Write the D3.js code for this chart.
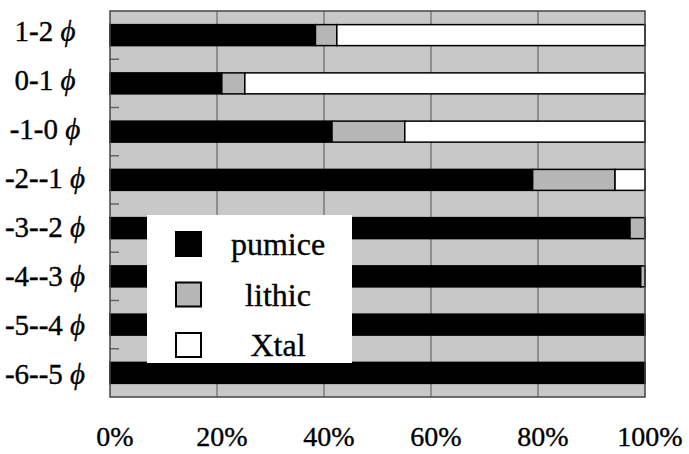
<!DOCTYPE html>
<html>
<head>
<meta charset="utf-8">
<script src="https://cdn.jsdelivr.net/npm/d3@7"></script>
<style>
	body { margin: 0; background: #fff; }
	svg { display: block; }
	text { font-family: 'Liberation Serif', 'Times New Roman', serif; fill: #000; stroke: #000; stroke-width: 0.35; }
</style>
</head>
<body>
<svg width="689" height="454"></svg>
<script>
const categories = ['1-2', '0-1', '-1-0', '-2--1', '-3--2', '-4--3', '-5--4', '-6--5'];
const components = ['pumice', 'lithic', 'Xtal'];
const pumice = [38.4, 20.9, 41.5, 79, 97.2, 99.2, 100, 100];
const lithic = [4, 4.3, 13.6, 15.4, 2.8, 0.8, 0, 0];
const xtal = [57.6, 74.8, 44.9, 5.6, 0, 0, 0, 0];
const ticks = [0, 20, 40, 60, 80, 100];

const svg = d3.select('svg');
const plot = { left: 110, right: 645, top: 11, bottom: 397 };

const colours = d3.scaleOrdinal()
	.domain(components)
	.range(['#000000', '#b6b6b6', '#ffffff']);

const rows = categories.map((c, i) => ({
	cat: c,
	pumice: pumice[i],
	lithic: lithic[i],
	Xtal: xtal[i],
}));

const series = d3.stack().keys(components)(rows);

const x = d3.scaleLinear()
	.domain([0, 100])
	.range([plot.left, plot.right]);

const y = d3.scaleBand()
	.domain(categories)
	.range([plot.top, plot.bottom])
	.paddingInner(0.565)
	.paddingOuter(0.2825);

// labels sit a bit lower than the bars towards the bottom
const yLabel = d3.scalePoint()
	.domain(categories)
	.range([41, 384]);

// plot background
svg.append('rect')
	.attr('x', plot.left)
	.attr('y', plot.top)
	.attr('width', plot.right - plot.left)
	.attr('height', plot.bottom - plot.top)
	.attr('fill', '#c8c8c8');

// vertical grid
svg.append('g')
	.selectAll('line')
	.data(ticks.slice(1, -1))
	.enter()
	.append('line')
	.attr('x1', d => x(d))
	.attr('x2', d => x(d))
	.attr('y1', plot.top)
	.attr('y2', plot.bottom)
	.attr('stroke', '#555')
	.attr('stroke-width', 1);

// inward ticks on the category axis
svg.append('g')
	.selectAll('line')
	.data(categories.slice(1))
	.enter()
	.append('line')
	.attr('x1', plot.left)
	.attr('x2', plot.left + 9)
	.attr('y1', d => y(d) - y.step() * y.paddingInner() / 2)
	.attr('y2', d => y(d) - y.step() * y.paddingInner() / 2)
	.attr('stroke', '#666')
	.attr('stroke-width', 1.5);

// stacked bars
svg.append('g')
	.selectAll('g')
	.data(series)
	.enter()
	.append('g')
	.attr('fill', d => colours(d.key))
	.selectAll('rect')
	.data(d => d.filter(s => s[1] - s[0] > 0))
	.enter()
	.append('rect')
	.attr('x', d => x(d[0]))
	.attr('y', d => y(d.data.cat))
	.attr('width', d => x(d[1]) - x(d[0]))
	.attr('height', y.bandwidth())
	.attr('stroke', '#000')
	.attr('stroke-width', 1.5);

// plot frame
svg.append('rect')
	.attr('x', plot.left)
	.attr('y', plot.top)
	.attr('width', plot.right - plot.left)
	.attr('height', plot.bottom - plot.top)
	.attr('fill', 'none')
	.attr('stroke', '#444')
	.attr('stroke-width', 1.5);

// category labels
const catLabels = svg.append('g')
	.selectAll('text')
	.data(categories)
	.enter()
	.append('text')
	.attr('x', 45)
	.attr('y', d => yLabel(d))
	.attr('text-anchor', 'middle')
	.attr('font-size', 29);
catLabels.append('tspan').text(d => d + ' ');
catLabels.append('tspan').attr('font-style', 'italic').text('\u03d5');

// percent labels
svg.append('g')
	.selectAll('text')
	.data(ticks)
	.enter()
	.append('text')
	.attr('x', d => x(d) + 5)
	.attr('y', 446)
	.attr('text-anchor', 'middle')
	.attr('font-size', 28)
	.text(d => d + '%');

// legend
const legend = svg.append('g');
legend.append('rect')
	.attr('x', 147)
	.attr('y', 215)
	.attr('width', 205)
	.attr('height', 148)
	.attr('fill', '#fff');

const legendY = d3.scalePoint()
	.domain(components)
	.range([244, 345]);

const items = legend.selectAll('g')
	.data(components)
	.enter()
	.append('g')
	.attr('transform', d => `translate(0,${legendY(d)})`);

items.append('rect')
	.attr('x', 176)
	.attr('y', -12)
	.attr('width', 25)
	.attr('height', 24)
	.attr('fill', d => colours(d))
	.attr('stroke', '#000')
	.attr('stroke-width', 2);

items.append('text')
	.attr('x', 278)
	.attr('y', 11)
	.attr('text-anchor', 'middle')
	.attr('font-size', 32)
	.text(d => d);
</script>
</body>
</html>
